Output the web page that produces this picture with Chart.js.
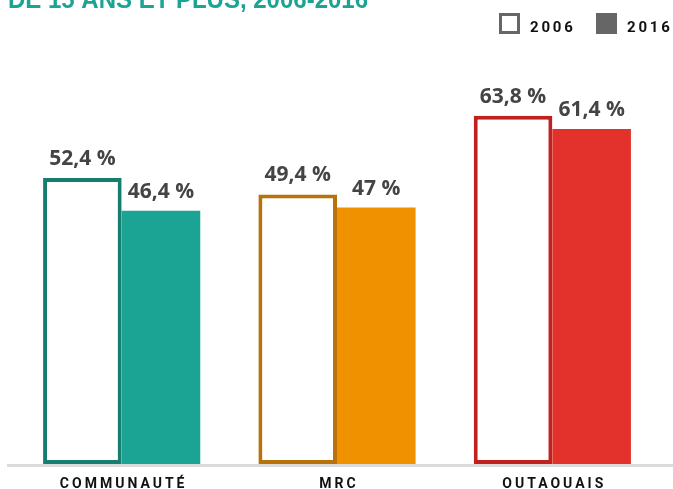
<!DOCTYPE html>
<html>
<head>
<meta charset="utf-8">
<script src="https://cdn.jsdelivr.net/npm/chart.js@4.4.1/dist/chart.umd.min.js"></script>
<style>
    html, body { margin: 0; padding: 0; background: #fff; }
    #wrap { width: 673px; height: 489px; position: relative; }
</style>
</head>
<body>
<div id="wrap"><canvas id="chart"></canvas></div>
<script>
// Chart data
const categories = ['COMMUNAUTÉ', 'MRC', 'OUTAOUAIS'];
const values2006 = [52.4, 49.4, 63.8];
const values2016 = [46.4, 47, 61.4];
const seriesLabels = ['2006', '2016'];
const titleText = 'DE 15 ANS ET PLUS, 2006-2016';

const outlineColors = ['#177d70', '#b8720c', '#c0211f'];
const fillColors = ['#1ba393', '#f09100', '#e3322b'];

const fmt = v => String(v).replace('.', ',') + ' %';

// clipped title, legend, baseline rule, category labels and value labels
const decorPlugin = {
    id: 'decor',
    beforeDraw(chart) {
        const ctx = chart.ctx;
        ctx.save();
        ctx.fillStyle = '#1ba393';
        ctx.font = '900 25px "Liberation Sans", Arial, sans-serif';
        ctx.textBaseline = 'alphabetic';
        ctx.textAlign = 'left';
        ctx.fillText(titleText, 8, 8, 360);

        // legend
        ctx.strokeStyle = '#666';
        ctx.lineWidth = 3;
        ctx.strokeRect(500.5, 14.5, 18, 18);
        ctx.fillStyle = '#666';
        ctx.fillRect(596, 13, 21, 21);
        ctx.fillStyle = '#111';
        ctx.letterSpacing = '2.8px';
        ctx.font = 'bold 15px Roboto, sans-serif';
        ctx.fillText(seriesLabels[0], 530, 32);
        ctx.fillText(seriesLabels[1], 627, 32);
        ctx.restore();
    },
    afterDatasetsDraw(chart) {
        const ctx = chart.ctx;
        const x = chart.scales.x;
        const y = chart.scales.y.getPixelForValue(0);
        ctx.save();
        ctx.strokeStyle = '#dcdcdc';
        ctx.lineWidth = 3;
        ctx.beginPath();
        ctx.moveTo(7, y + 1.5);
        ctx.lineTo(673, y + 1.5);
        ctx.stroke();

        // category labels on the x scale
        ctx.fillStyle = '#111';
        ctx.font = 'bold 14px Roboto, sans-serif';
        ctx.letterSpacing = '3px';
        ctx.textAlign = 'center';
        ctx.textBaseline = 'alphabetic';
        categories.forEach((c, i) => {
            ctx.fillText(c, x.getPixelForValue(i) + 2, y + 24);
        });

        ctx.letterSpacing = '0px';
        ctx.fillStyle = '#444';
        ctx.font = 'bold 21px "Open Sans", sans-serif';
        chart.data.datasets.forEach((ds, i) => {
            chart.getDatasetMeta(i).data.forEach((bar, j) => {
                ctx.fillText(fmt(ds.data[j]), bar.x, bar.y - 13);
            });
        });
        ctx.restore();
    }
};

const ctx = document.getElementById('chart').getContext('2d');
new Chart(ctx, {
    type: 'bar',
    data: {
        labels: categories,
        datasets: [{
            label: seriesLabels[0],
            data: values2006,
            backgroundColor: '#ffffff',
            borderColor: outlineColors,
            borderWidth: 4,
            borderSkipped: false
        }, {
            label: seriesLabels[1],
            data: values2016,
            backgroundColor: fillColors,
            borderWidth: 0
        }]
    },
    options: {
        responsive: true,
        maintainAspectRatio: false,
        animation: false,
        layout: { padding: { left: 14, right: 13, top: 82, bottom: 25 } },
        datasets: { bar: { barPercentage: 1, categoryPercentage: 0.73 } },
        plugins: {
            title: { display: false },
            tooltip: { enabled: false },
            legend: { display: false }
        },
        scales: {
            x: { display: false },
            y: {
                display: false,
                min: 0,
                max: 70
            }
        }
    },
    plugins: [decorPlugin]
});
</script>
</body>
</html>
